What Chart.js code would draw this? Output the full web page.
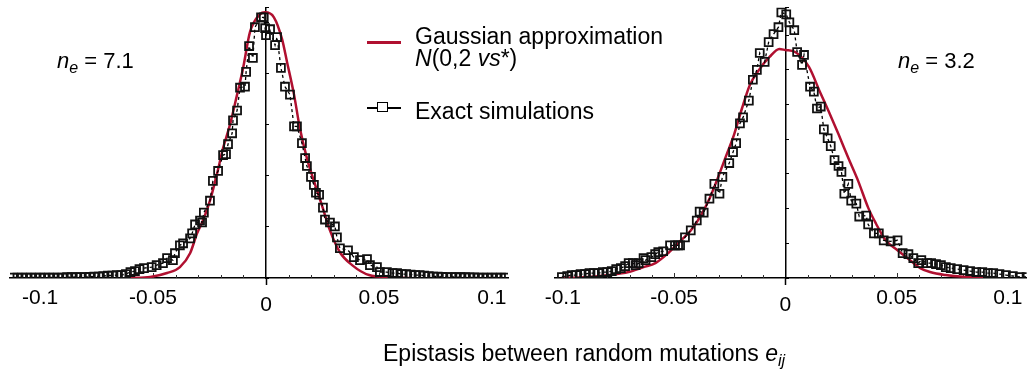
<!DOCTYPE html>
<html>
<head>
<meta charset="utf-8">
<script src="https://cdn.jsdelivr.net/npm/chart.js@4.4.0/dist/chart.umd.min.js"></script>
<style>
  body { margin: 0; background: #fff; width: 1034px; height: 378px; overflow: hidden; position: relative;
         font-family: "Liberation Sans", Arial, sans-serif; color: #000; }
  canvas { position: absolute; top: 0; }
  #leftChart { left: 0; }
  #rightChart { left: 530px; }
  .lbl { position: absolute; font-size: 23px; line-height: 23px; white-space: nowrap; }
  .ne { font-size: 22px; line-height: 22px; }
  .sub { font-size: 16px; position: relative; top: 5px; font-style: italic; }
  .swatch { position: absolute; }
</style>
</head>
<body>
<canvas id="leftChart" width="520" height="378"></canvas>
<canvas id="rightChart" width="504" height="378"></canvas>

<div class="lbl ne" style="left:57px;top:50px"><i>n</i><span class="sub">e</span> = 7.1</div>
<div class="lbl ne" style="left:898px;top:50px"><i>n</i><span class="sub">e</span> = 3.2</div>

<div class="swatch" style="left:367px;top:41px;width:34px;height:2.5px;background:#b01030"></div>
<div class="lbl" style="left:415px;top:25px">Gaussian approximation</div>
<div class="lbl" style="left:415px;top:47px"><i>N</i>(0,2 <i>vs</i>*)</div>
<div class="swatch" style="left:367px;top:107px;width:34px;height:1.5px;background:#000"></div>
<div class="swatch" style="left:377px;top:102px;width:9px;height:8px;border:1.8px solid #000;background:#fff"></div>
<div class="lbl" style="left:415px;top:100px">Exact simulations</div>

<div class="lbl" style="left:383px;top:342px">Epistasis between random mutations <i>e</i><span class="sub">ij</span></div>

<script>
// left panel (n_e = 7.1)
const leftSimX = [-0.112, -0.110, -0.108, -0.106, -0.104, -0.102, -0.100, -0.098, -0.096, -0.094, -0.092, -0.090,
  -0.088, -0.086, -0.084, -0.082, -0.080, -0.078, -0.076, -0.074, -0.072, -0.070, -0.068, -0.066, -0.064, -0.062,
  -0.060, -0.058, -0.056, -0.054, -0.0506, -0.0484, -0.0456, -0.0438, -0.0412, -0.0403, -0.0381, -0.0367, -0.0336,
  -0.0327, -0.0314, -0.0292, -0.0283, -0.0275, -0.0248, -0.0235, -0.0212, -0.0190, -0.0177, -0.0168, -0.0150,
  -0.0146, -0.0128, -0.0115, -0.0093, -0.0088, -0.0075, -0.0058, -0.0049, -0.0022, -0.0010, -0.0004, 0.0000,
  0.0018, 0.0040, 0.0049, 0.0066, 0.0084, 0.0106, 0.0124, 0.0137, 0.0159, 0.0173, 0.0181, 0.0199, 0.0212, 0.0221,
  0.0235, 0.0252, 0.0261, 0.0283, 0.0305, 0.0314, 0.0327, 0.0363, 0.0389, 0.0416, 0.0447, 0.0460, 0.0491, 0.0504,
  0.0535, 0.056, 0.058, 0.060, 0.062, 0.064, 0.066, 0.068, 0.070, 0.072, 0.074, 0.076, 0.078, 0.080, 0.082, 0.084,
  0.086, 0.088, 0.090, 0.092, 0.094, 0.096, 0.098, 0.100, 0.102, 0.104, 0.106];
const leftSimY = [0.5, 0.5, 0.5, 0.5, 0.5, 0.5, 0.5, 0.5, 0.5, 0.5, 0.5, 0.5,
  0.8, 0.8, 1, 1, 1, 1.2, 1.5, 1.5, 2, 2.5, 2.5, 3, 3, 4,
  6, 7, 9, 10, 11, 13, 15, 20, 18, 25, 33, 35, 40,
  45, 54, 58, 56, 66, 78, 98, 108, 124, 125, 135, 146,
  159, 169, 192, 193, 208, 234, 222, 253, 263, 263, 252, 245,
  251, 235, 243, 212, 193, 185, 153, 153, 136, 121, 113, 102, 94, 86,
  84, 71, 59, 56, 52, 41, 30, 28, 21, 18, 19, 13, 11, 6,
  6, 5, 5, 4, 4, 3.5, 3, 3, 2.5, 2, 1.5, 1.5, 1.2, 1, 1, 1,
  0.8, 0.8, 0.6, 0.6, 0.5, 0.5, 0.5, 0.5, 0.5, 0.5, 0.5];
const leftGaussX = [-0.0602, -0.0513, -0.0438, -0.0381, -0.0336, -0.0305, -0.0279, -0.0248, -0.0217, -0.0190,
  -0.0159, -0.0128, -0.0102, -0.0071, -0.0027, -0.0004, 0.0035, 0.0071, 0.0093, 0.0124, 0.0150, 0.0181, 0.0212,
  0.0248, 0.0283, 0.0327, 0.0381, 0.0456, 0.0544, 0.0637];
const leftGaussY = [0, 1, 5, 11, 25, 45, 58, 78, 105, 131,
  155, 185, 211, 248, 266, 268, 263, 241, 218, 185, 151, 121, 98,
  73, 48, 26, 13, 3, 1, 0];

// right panel (n_e = 3.2)
const rightSimX = [-0.1004, -0.098, -0.096, -0.094, -0.092, -0.090, -0.088, -0.086, -0.084, -0.082, -0.080, -0.078,
  -0.076, -0.0739, -0.072, -0.0704, -0.0685, -0.0673, -0.0659, -0.0637, -0.0628, -0.0602, -0.0585, -0.0571, -0.0549,
  -0.0518, -0.0496, -0.0482, -0.0473, -0.0451, -0.0425, -0.0398, -0.0385, -0.0367, -0.0341, -0.0319, -0.0296,
  -0.0283, -0.0252, -0.0235, -0.0221, -0.0204, -0.0190, -0.0164, -0.0146, -0.0128, -0.0115, -0.0093, -0.0075,
  -0.0053, -0.0031, -0.0018, 0.0004, 0.0018, 0.0040, 0.0053, 0.0075, 0.0084, 0.0111, 0.0128, 0.0142, 0.0159,
  0.0173, 0.0190, 0.0204, 0.0221, 0.0239, 0.0252, 0.0265, 0.0283, 0.0296, 0.0319, 0.0332, 0.0363, 0.0372, 0.0398,
  0.0420, 0.0442, 0.0473, 0.0504, 0.0527, 0.0553, 0.0575, 0.0597, 0.0611, 0.0637, 0.0655, 0.0677, 0.0699, 0.0721,
  0.0743, 0.0772, 0.0801, 0.0830, 0.0858, 0.0885, 0.0910, 0.0934, 0.0962, 0.0991, 0.1022, 0.1053, 0.1084];
const rightSimY = [1, 2, 3, 3, 4, 4, 5, 5, 5, 6, 6, 7,
  9, 10, 12, 15, 15, 13, 15, 20, 18, 21, 24, 26, 27,
  33, 33, 33, 33, 41, 48, 58, 67, 66, 80, 95, 85,
  102, 116, 127, 136, 156, 162, 179, 200, 210, 227, 218, 238,
  246, 253, 268, 266, 258, 250, 228, 215, 225, 193, 188, 171, 173,
  150, 141, 133, 119, 113, 107, 85, 95, 78, 75, 62, 63, 54, 45,
  45, 38, 37, 38, 25, 24, 20, 15, 18, 15, 15, 14, 13, 11,
  10, 9, 8, 7, 6, 6, 5, 5, 4, 3, 2, 1, 1];
const rightGaussX = [-0.1004, -0.0925, -0.0792, -0.0704, -0.0637, -0.0584, -0.0527, -0.0469, -0.0425, -0.0385,
  -0.0341, -0.0305, -0.0270, -0.0230, -0.0195, -0.0159, -0.0115, -0.0071, -0.0027, 0.0000, 0.0044, 0.0106, 0.0155,
  0.0195, 0.0239, 0.0283, 0.0327, 0.0372, 0.0407, 0.0451, 0.0504, 0.0549, 0.0606, 0.0650, 0.0720, 0.0814, 0.0934];
const rightGaussY = [0, 0.5, 3, 6, 11, 15, 25, 38, 48, 61,
  80, 100, 121, 145, 171, 195, 211, 223, 231, 230, 228, 213, 188,
  168, 145, 121, 98, 71, 55, 38, 28, 20, 10, 6, 3, 1, 0];

// axis ticks
const xMajorTicks = [-0.1, -0.05, 0, 0.05, 0.1];
const xTickLabels = ['-0.1', '-0.05', '0', '0.05', '0.1'];
const leftMinorTicks = [-0.11, -0.1, -0.09, -0.08, -0.07, -0.06, -0.05, -0.04, -0.03, -0.02, -0.01, 0,
  0.01, 0.02, 0.03, 0.04, 0.05, 0.06, 0.07, 0.08, 0.09, 0.1];
const rightMinorTicks = [-0.1, -0.09, -0.08, -0.07, -0.06, -0.05, -0.04, -0.03, -0.02, -0.01, 0,
  0.01, 0.02, 0.03, 0.04, 0.05, 0.06, 0.07, 0.08, 0.09, 0.1];

const RED = '#b01030';
const FONT = '"Liberation Sans", Arial, sans-serif';
Chart.defaults.font.family = FONT;
Chart.defaults.color = '#000';

function toPoints(xs, ys) {
  return xs.map((x, i) => ({ x: x, y: ys[i] }));
}

function isMajor(v) {
  return xMajorTicks.some(m => Math.abs(m - v) < 1e-9);
}

// small tick marks standing above the x axis line
const minorTicks = {
  id: 'minorTicks',
  beforeDatasetsDraw(chart) {
    const s = chart.scales.x;
    const ctx = chart.ctx;
    const b = chart.chartArea.bottom;
    ctx.save();
    ctx.strokeStyle = '#333';
    ctx.lineWidth = 1;
    s.ticks.forEach(t => {
      if (t.value === 0) return;
      const px = Math.round(s.getPixelForValue(t.value)) + 0.5;
      const len = isMajor(t.value) ? 5 : 3;
      ctx.beginPath();
      ctx.moveTo(px, b);
      ctx.lineTo(px, b - len);
      ctx.stroke();
    });
    ctx.restore();
  }
};

function makeChart(id, o) {
  return new Chart(document.getElementById(id), {
    type: 'line',
    data: {
      datasets: [{
        label: 'Exact simulations',
        data: toPoints(o.simX, o.simY),
        borderColor: '#000',
        borderWidth: 1.3,
        borderDash: [3, 3],
        pointStyle: 'rect',
        pointRadius: 5.6,
        pointBorderWidth: 1.8,
        pointBorderColor: '#111',
        pointBackgroundColor: 'rgba(0,0,0,0)'
      }, {
        label: 'Gaussian approximation',
        data: toPoints(o.gaussX, o.gaussY),
        borderColor: RED,
        borderWidth: 2.5,
        pointRadius: 0,
        cubicInterpolationMode: 'monotone'
      }]
    },
    options: {
      responsive: false,
      animation: false,
      layout: { padding: o.padding },
      plugins: { legend: { display: false }, tooltip: { enabled: false } },
      scales: {
        x: {
          type: 'linear',
          min: o.xMin,
          max: o.xMax,
          afterBuildTicks: s => { s.ticks = o.ticks.map(v => ({ value: v })); },
          ticks: {
            autoSkip: false,
            maxRotation: 0,
            padding: 1,
            color: '#000',
            font: c => (c.tick && c.tick.value === 0)
              ? { family: FONT, size: 21, lineHeight: '13px' }
              : { family: FONT, size: 21 },
            callback: v => {
              const i = xMajorTicks.findIndex(t => Math.abs(t - v) < 1e-9);
              if (i < 0) return '';
              return v === 0 ? ['', xTickLabels[i]] : xTickLabels[i];
            }
          },
          grid: {
            drawOnChartArea: false,
            tickLength: 7,
            tickWidth: 1.5,
            tickColor: c => (c.tick && c.tick.value === 0) ? '#000' : 'rgba(0,0,0,0)'
          },
          border: { color: '#000', width: 1.5 }
        },
        y: {
          type: 'linear',
          min: 0,
          max: 273,
          position: { x: 0 },
          ticks: { display: false, stepSize: o.yStep },
          grid: { drawOnChartArea: false, tickLength: -4, tickColor: '#000', tickWidth: 1 },
          border: { color: '#000', width: 1.5 }
        }
      }
    },
    plugins: [minorTicks]
  });
}

makeChart('leftChart', {
  simX: leftSimX, simY: leftSimY, gaussX: leftGaussX, gaussY: leftGaussY,
  xMin: -0.1133, xMax: 0.1071, ticks: leftMinorTicks, yStep: 51.5,
  padding: { left: 10, right: 12, top: 5, bottom: 65 }
});

makeChart('rightChart', {
  simX: rightSimX, simY: rightSimY, gaussX: rightGaussX, gaussY: rightGaussY,
  xMin: -0.1035, xMax: 0.1084, ticks: rightMinorTicks, yStep: 35,
  padding: { left: 25, right: 0, top: 5, bottom: 65 }
});
</script>
</body>
</html>
